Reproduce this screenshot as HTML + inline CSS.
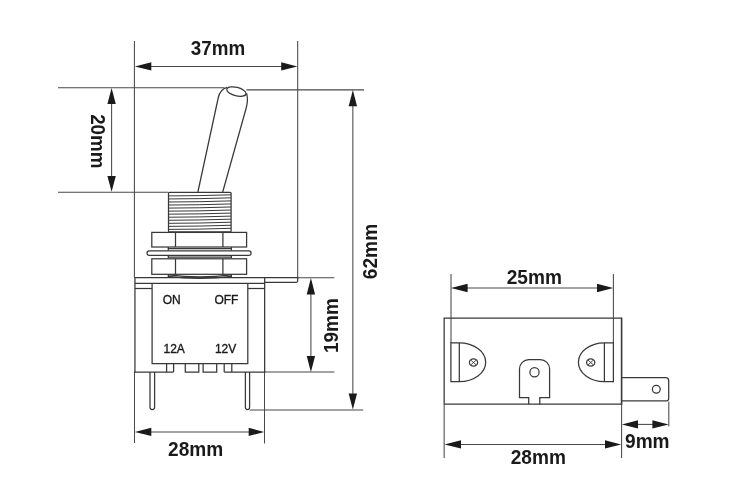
<!DOCTYPE html>
<html>
<head>
<meta charset="utf-8">
<title>Toggle switch dimensions</title>
<style>
html,body{margin:0;padding:0;background:#fff;}
body{width:750px;height:500px;overflow:hidden;position:relative;}
svg{position:absolute;left:0;top:0;display:block;filter:grayscale(1);}
.d{stroke:#484848;stroke-width:1.05;fill:none;}
.o{stroke:#383838;stroke-width:1.25;fill:none;}
.t{stroke:#383838;stroke-width:1;fill:none;}
.a{fill:#1a1a1a;stroke:none;}
.b{font-family:"Liberation Sans",sans-serif;font-weight:bold;font-size:20px;fill:#1a1a1a;text-anchor:middle;}
.s{font-family:"Liberation Sans",sans-serif;font-size:12px;fill:#1a1a1a;stroke:#1a1a1a;stroke-width:0.35;text-anchor:middle;}
</style>
</head>
<body>
<svg width="750" height="500" viewBox="0 0 750 500">
<rect width="750" height="500" fill="#ffffff"/>

<!-- ===== LEFT DRAWING: extension / dimension lines ===== -->
<g class="d">
  <line x1="134.4" y1="41" x2="134.4" y2="277.6"/>
  <line x1="134.5" y1="372" x2="134.5" y2="443"/>
  <line x1="297.7" y1="41" x2="297.7" y2="277.6"/>
  <line x1="151" y1="66.4" x2="282" y2="66.4"/>
  <line x1="58" y1="87.7" x2="224.5" y2="87.7"/>
  <line x1="246.5" y1="89.85" x2="364" y2="89.85"/>
  <line x1="58" y1="192.2" x2="168.3" y2="192.2"/>
  <line x1="111.6" y1="103" x2="111.6" y2="177"/>
  <line x1="352.85" y1="105" x2="352.85" y2="395"/>
  <line x1="310.9" y1="293" x2="310.9" y2="357"/>
  <line x1="297.7" y1="277.8" x2="334.3" y2="277.8"/>
  <line x1="264.6" y1="372" x2="334.3" y2="372"/>
  <line x1="249.6" y1="409.9" x2="363.2" y2="409.9"/>
  <line x1="264.5" y1="372" x2="264.5" y2="443.5"/>
  <line x1="150" y1="431.9" x2="250" y2="431.9"/>
</g>
<g class="a">
  <polygon points="134.9,66.4 151.3,62.2 151.3,70.6"/>
  <polygon points="297.4,66.4 281.2,62.2 281.2,70.6"/>
  <polygon points="111.6,87.9 107.4,104 115.8,104"/>
  <polygon points="111.6,191.8 107.4,176 115.8,176"/>
  <polygon points="352.85,90 348.65,106.3 357.05,106.3"/>
  <polygon points="352.85,409.6 348.65,393.5 357.05,393.5"/>
  <polygon points="310.9,278.1 306.7,294.4 315.1,294.4"/>
  <polygon points="310.9,371.9 306.7,356 315.1,356"/>
  <polygon points="134.8,431.9 151.3,427.7 151.3,436.1"/>
  <polygon points="264.2,431.9 248.7,427.7 248.7,436.1"/>
</g>

<!-- ===== LEFT DRAWING: switch ===== -->
<g class="o">
  <!-- lever -->
  <path d="M197.9,192 L218.3,97.5 C219.5,92 222.5,88.6 227,87.3"/>
  <path d="M222.7,192 L246.2,108 C247.4,103.5 247.9,97.5 246.5,93.2"/>
  <ellipse cx="236.4" cy="91.6" rx="9.9" ry="4.25" transform="rotate(14 236.4 91.6)"/>
  <!-- threaded bushing -->
  <rect x="168.5" y="192.3" width="62.6" height="39.6" rx="1" ry="1"/>
  <!-- nut 1 -->
  <rect x="151.8" y="232.4" width="94.8" height="14.6"/>
  <line x1="175.5" y1="232.4" x2="175.5" y2="247"/>
  <line x1="222.9" y1="232.4" x2="222.9" y2="247"/>
  <!-- band -->
  <path d="M168.3,247 V250.6 M231.4,247 V250.6 M168.3,248.6 H231.4"/>
  <!-- washer -->
  <rect x="147" y="250.9" width="104.1" height="4.5" rx="2.25" ry="2.25"/>
  <path d="M168.3,255.8 V258 M231.4,255.8 V258"/>
  <line x1="168.3" y1="257.2" x2="231.4" y2="257.2"/>
  <!-- nut 2 -->
  <rect x="151.8" y="258.8" width="94.8" height="15.5"/>
  <line x1="175.5" y1="258.8" x2="175.5" y2="274.3"/>
  <line x1="222.9" y1="258.8" x2="222.9" y2="274.3"/>
  <!-- curved band -->
  <path d="M168.3,274.3 V276.4 Q200,280.4 231.4,276.4 V274.3"/>
  <path d="M168.3,274.9 Q200,278.7 231.4,274.9"/>
  <!-- body -->
  <line x1="134.4" y1="277.6" x2="298.2" y2="277.6"/>
  <path d="M264.6,282.3 H296.2 Q297.7,282.3 297.7,280.8 V277.6"/>
  <line x1="134.9" y1="283.4" x2="264.6" y2="283.4"/>
  <line x1="134.9" y1="288.5" x2="152.1" y2="288.5"/>
  <line x1="247.8" y1="288.5" x2="264.6" y2="288.5"/>
  <line x1="134.95" y1="277.6" x2="134.95" y2="372.4"/>
  <line x1="264.65" y1="277.6" x2="264.65" y2="372.4"/>
  <path d="M152.1,283.4 V363.6 H247.8 V283.4"/>
  <path d="M134.4,372 H173.6 M224.2,372 H265.2"/>
  <!-- terminal tabs -->
  <path d="M166.6,363.6 V372.1 M173.6,363.6 V372.1"/>
  <path d="M185.3,363.6 V372.1 H198.8 V363.6"/>
  <path d="M203.1,363.6 V372.1 H216.7 V363.6"/>
  <path d="M224.2,363.6 V372.1 M231.8,363.6 V372.1"/>
  <!-- pins -->
  <path d="M150,372 V407.3 Q150,409.5 152.3,409.5 Q154.6,409.5 154.6,407.3 V372"/>
  <path d="M245.4,372 V407.3 Q245.4,409.5 247.5,409.5 Q249.6,409.5 249.6,407.3 V372"/>
</g>
<!-- thread lines -->
<g class="t">
  <path d="M168.5,195.90 Q200,195.85 231,194.80"/>
  <path d="M168.5,198.94 Q200,198.89 231,197.84"/>
  <path d="M168.5,201.99 Q200,201.94 231,200.89"/>
  <path d="M168.5,205.03 Q200,204.98 231,203.93"/>
  <path d="M168.5,208.08 Q200,208.03 231,206.98"/>
  <path d="M168.5,211.13 Q200,211.08 231,210.03"/>
  <path d="M168.5,214.17 Q200,214.12 231,213.07"/>
  <path d="M168.5,217.22 Q200,217.17 231,216.12"/>
  <path d="M168.5,220.26 Q200,220.21 231,219.16"/>
  <path d="M168.5,223.31 Q200,223.26 231,222.21"/>
  <path d="M168.5,226.36 Q200,226.31 231,225.26"/>
  <path d="M168.5,229.40 Q200,229.35 231,228.30"/>
</g>

<!-- ===== LEFT DRAWING: text ===== -->
<text class="b" transform="translate(218,55.3) scale(0.94,1)">37mm</text>
<text class="b" transform="translate(90.8,141.25) rotate(90) scale(0.938,1)">20mm</text>
<text class="b" transform="translate(376.5,251.5) rotate(-90) scale(0.957,1)">62mm</text>
<text class="b" transform="translate(338.1,325.6) rotate(-90) scale(0.95,1)">19mm</text>
<text class="b" transform="translate(195.6,455.6) scale(0.955,1)">28mm</text>
<text class="s" x="171.7" y="304">ON</text>
<text class="s" x="226.4" y="304">OFF</text>
<text class="s" x="174.2" y="353.2">12A</text>
<text class="s" x="225.6" y="353.2">12V</text>

<!-- ===== RIGHT DRAWING: dimension lines ===== -->
<g class="d">
  <line x1="451" y1="274" x2="451" y2="343"/>
  <line x1="613.4" y1="274" x2="613.4" y2="343"/>
  <line x1="466" y1="288" x2="598" y2="288"/>
  <line x1="444.15" y1="404" x2="444.15" y2="458"/>
  <line x1="621.6" y1="404" x2="621.6" y2="458"/>
  <line x1="668.8" y1="401.5" x2="668.8" y2="426.5"/>
  <line x1="637" y1="424.4" x2="653" y2="424.4"/>
  <line x1="460" y1="444.4" x2="606" y2="444.4"/>
</g>
<g class="a">
  <polygon points="451,288 467.6,283.8 467.6,292.2"/>
  <polygon points="613.2,288 597,283.8 597,292.2"/>
  <polygon points="621.9,424.4 638,420.2 638,428.6"/>
  <polygon points="668.7,424.4 652.4,420.2 652.4,428.6"/>
  <polygon points="444.5,444.4 461,440.2 461,448.6"/>
  <polygon points="621.2,444.4 605,440.2 605,448.6"/>
</g>
<!-- ===== RIGHT DRAWING: body ===== -->
<g class="o">
  <path d="M444.15,404.2 V318.15 H621.6"/>
  <path d="M621.6,317.6 V404.7" stroke-width="1.6"/>
  <line x1="444.15" y1="404.2" x2="621.6" y2="404.2"/>
  <!-- left D terminal -->
  <path d="M450.9,342.9 H459.3 A26.4,19.4 0 0 1 459.3,381.7 H450.9 Z"/>
  <line x1="459.3" y1="342.9" x2="459.3" y2="381.7"/>
  <ellipse cx="473.5" cy="362.5" rx="4.1" ry="3.6"/>
  <path d="M470.7,360 L476.3,365 M476.3,360 L470.7,365" stroke-width="0.9"/>
  <!-- right D terminal -->
  <path d="M613.4,342.9 H604.4 A26,19.4 0 0 0 604.4,381.7 H613.4 Z"/>
  <line x1="604.4" y1="342.9" x2="604.4" y2="381.7"/>
  <ellipse cx="590.7" cy="362.5" rx="4.1" ry="3.6"/>
  <path d="M587.9,360 L593.5,365 M593.5,360 L587.9,365" stroke-width="0.9"/>
  <!-- centre terminal -->
  <path d="M528.7,404.2 V397.6 H519.5 V369 A9.3,9.3 0 0 1 528.8,359.7 H540.3 A9.3,9.3 0 0 1 549.6,369 V397.6 H539.8 V404.2"/>
  <circle cx="534.5" cy="372.3" r="4.6"/>
  <!-- side tab -->
  <path d="M621.6,377.7 H665.6 Q668.7,377.7 668.7,380.8 V398.6 Q668.7,400.8 666.6,400.8 H621.6"/>
  <circle cx="656.3" cy="389.3" r="3.9"/>
</g>
<text class="b" transform="translate(534.3,283.6) scale(0.955,1)">25mm</text>
<text class="b" transform="translate(538.3,464) scale(0.955,1)">28mm</text>
<text class="b" transform="translate(647.3,448) scale(0.955,1)">9mm</text>
</svg>
</body>
</html>
